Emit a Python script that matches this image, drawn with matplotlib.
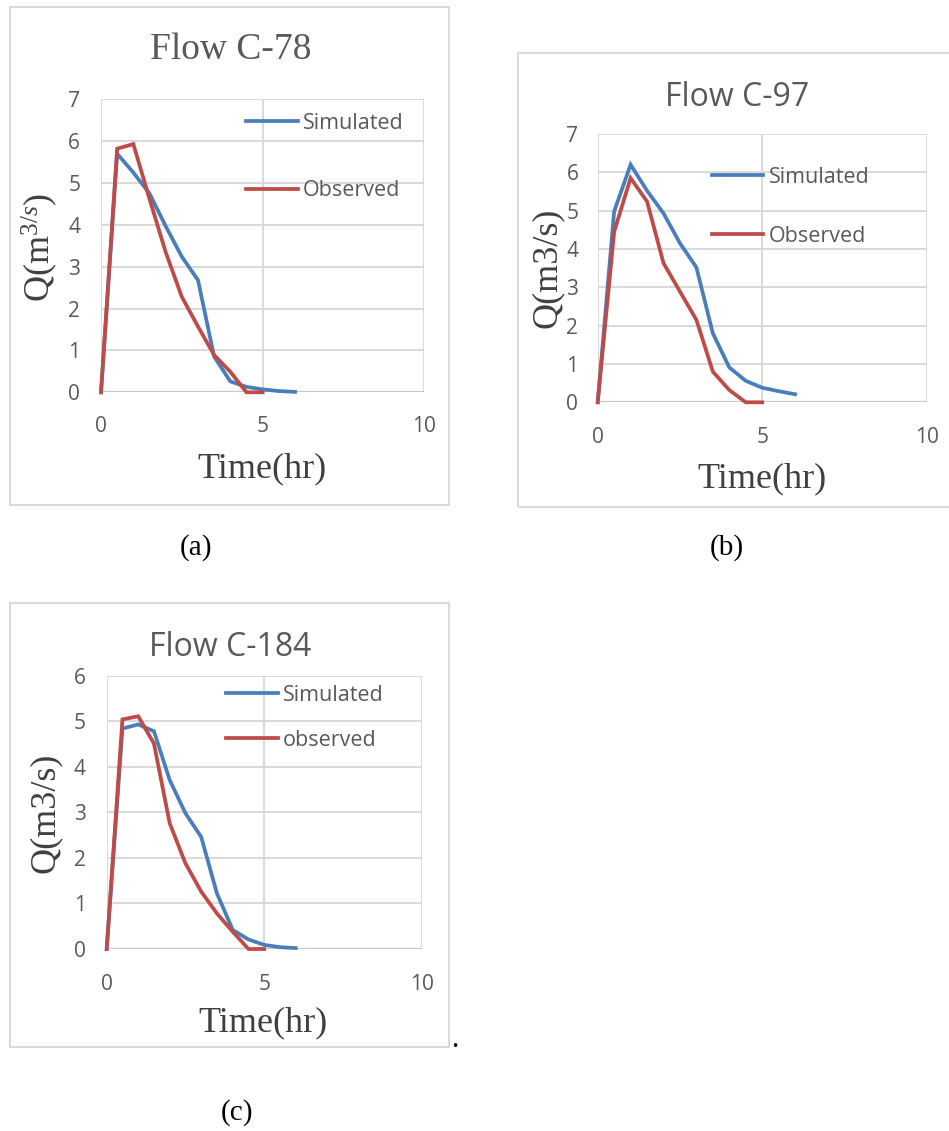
import matplotlib
matplotlib.use("Agg")
import matplotlib.pyplot as plt
from matplotlib.patches import Rectangle

plt.rcParams['mathtext.fontset'] = 'custom'
plt.rcParams['mathtext.rm'] = 'Liberation Serif'
plt.rcParams['mathtext.it'] = 'Liberation Serif:italic'

W, H = 949, 1131
DPI = 100

# ---- data -------------------------------------------------------------
time_sim = [0, 0.5, 1, 1.5, 2, 2.5, 3, 3.5, 4, 4.5, 5, 5.5, 6]
time_obs = [0, 0.5, 1, 1.5, 2, 2.5, 3, 3.5, 4, 4.5, 5]

c78_sim = [0, 5.70, 5.25, 4.75, 3.97, 3.24, 2.68, 0.85, 0.26, 0.13, 0.07, 0.03, 0.01]
c78_obs = [0, 5.82, 5.93, 4.62, 3.35, 2.28, 1.57, 0.89, 0.49, 0.0, 0.0]

c97_sim = [0, 4.98, 6.20, 5.52, 4.93, 4.15, 3.52, 1.80, 0.91, 0.56, 0.38, 0.29, 0.21]
c97_obs = [0, 4.45, 5.85, 5.24, 3.63, 2.89, 2.15, 0.80, 0.32, 0.0, 0.0]

c184_sim = [0, 4.84, 4.93, 4.78, 3.71, 2.98, 2.46, 1.22, 0.42, 0.21, 0.09, 0.04, 0.02]
c184_obs = [0, 5.04, 5.11, 4.51, 2.76, 1.88, 1.26, 0.78, 0.38, 0.0, 0.0]

x_ticks = [0, 5, 10]

BLUE = '#4A7EBB'
RED = '#BE4B48'
GRID = '#D9D9D9'
TXT = '#595959'
SANS = 'Open Sans'
SERIF = 'Liberation Serif'

fig = plt.figure(figsize=(W / DPI, H / DPI), dpi=DPI)


def fx(px):
    return px / W


def fy(py):
    return 1 - py / H


def frame(x0, y0, x1, y1):
    fig.patches.append(Rectangle((fx(x0), fy(y1)), fx(x1) - fx(x0), fy(y0) - fy(y1),
                                 transform=fig.transFigure, fill=False,
                                 edgecolor='#D9D9D9', linewidth=1.4))


def panel(box, ymax, sim, obs, names, legpos, title, title_font, title_pos,
          ylabel, ylab_pos, xlab_pos, ypad, xpad):
    l, t, r, b = box
    ax = fig.add_axes([fx(l), fy(b), fx(r) - fx(l), fy(t) - fy(b)])
    ax.plot(time_sim, sim, color=BLUE, lw=2.7, solid_joinstyle='miter',
            label=names[0], zorder=3, clip_on=False)
    ax.plot(time_obs, obs, color=RED, lw=2.7, solid_joinstyle='miter',
            label=names[1], zorder=3, clip_on=False)
    ax.set_xlim(0, 10)
    ax.set_ylim(0, ymax)
    ax.set_xticks(x_ticks)
    ax.set_yticks(range(0, ymax + 1))
    for s in ax.spines.values():
        s.set_visible(False)
    ax.grid(True, color=GRID, lw=1.4)
    ax.set_axisbelow(True)
    ax.axhline(0, color='#C8C8C8', lw=1.6, zorder=1)
    ax.tick_params(length=0, labelsize=15, labelcolor=TXT)
    ax.tick_params(axis='y', pad=ypad)
    ax.tick_params(axis='x', pad=xpad)
    for lab in ax.get_xticklabels() + ax.get_yticklabels():
        lab.set_fontfamily(SANS)
    leg = ax.legend(loc='upper left', bbox_to_anchor=(fx(legpos[0]), fy(legpos[1])),
                    bbox_transform=fig.transFigure, frameon=False, borderpad=0,
                    borderaxespad=0, handlelength=2.4, handletextpad=0.25,
                    labelspacing=legpos[2], prop={'family': SANS, 'size': 15.5})
    for tx in leg.get_texts():
        tx.set_color(TXT)
    fig.text(fx(title_pos[0]), fy(title_pos[1]), title, ha='center', va='center',
             fontsize=27 if title_font == SERIF else 23, family=title_font, color=TXT)
    fig.text(fx(ylab_pos[0]), fy(ylab_pos[1]), ylabel, ha='center', va='center',
             rotation=90, fontsize=26, family=SERIF, color='#404040')
    fig.text(fx(xlab_pos[0]), fy(xlab_pos[1]), 'Time(hr)', ha='center', va='center',
             fontsize=26, family=SERIF, color='#404040')
    return ax


# (a) Flow C-78
frame(10, 7, 449, 505)
panel((101, 99.3, 424.3, 392.3), 7, c78_sim, c78_obs, ('Simulated', 'Observed'),
      (246, 113, 2.15), 'Flow C-78', SERIF, (231, 50),
      'Q(m$^{3/s}$)', (40, 247), (262, 469), 15, 17)

# (b) Flow C-97
frame(518, 53, 960, 507)
panel((597.7, 134, 926.7, 402.3), 7, c97_sim, c97_obs, ('Simulated', 'Observed'),
      (711.7, 167, 1.75), 'Flow C-97', SANS, (737, 98),
      'Q(m3/s)', (547, 268), (762, 479), 14, 18)

# (c) Flow C-184
frame(10, 603, 449, 1046.5)
panel((106.7, 675.7, 421.7, 949), 6, c184_sim, c184_obs, ('Simulated', 'observed'),
      (226, 685, 1.1), 'Flow C-184', SANS, (230, 648),
      'Q(m3/s)', (45, 813), (263, 1023), 15, 18)

# panel captions
for label, (px, py) in [('(a)', (196, 548)), ('(b)', (727, 548)), ('(c)', (237, 1113))]:
    fig.text(fx(px), fy(py), label, ha='center', va='center', fontsize=21,
             family=SERIF, color='black')
fig.text(fx(455), fy(1040), '.', ha='center', va='center', fontsize=21,
         family=SERIF, color='black')

fig.savefig('out.png', dpi=DPI)
